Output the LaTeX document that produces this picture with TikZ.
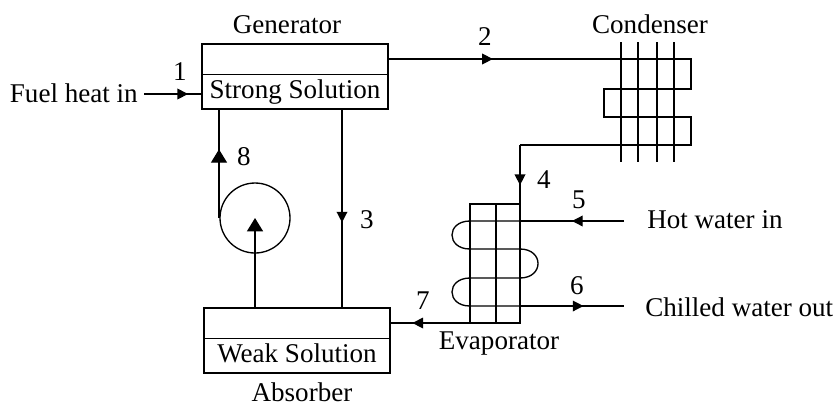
\documentclass[tikz,border=0pt]{standalone}
\usepackage{fontspec}
\setmainfont{Liberation Serif}
\usetikzlibrary{arrows.meta,decorations.markings}
\tikzset{
  >=Triangle,
  flow/.style={line width=1pt,draw=black},
  tipat/.style={postaction={decorate},decoration={markings,mark=at position #1 with {\arrow{Triangle[length=8pt,width=8pt]}}}},
  bigtipat/.style={postaction={decorate},decoration={markings,mark=at position #1 with {\arrow{Triangle[length=10pt,width=12pt]}}}},
  vessel/.style={rectangle,draw=black,line width=1.1pt,minimum width=139.5pt,minimum height=48.75pt,inner sep=0pt},
  pumpc/.style={circle,draw=black,line width=1pt,minimum size=52.5pt,inner sep=0pt},
  split/.style={line width=.55pt,draw=black},
  lab/.style={font=\fontsize{20.3pt}{23pt}\selectfont,inner sep=0pt}
}
\begin{document}
\begin{tikzpicture}[x=.75pt,y=-.75pt]
  \useasboundingbox (0,0) rectangle (837,405);

  % vessels and pump
  \node[vessel] (gen) at (295,76.5) {};
  \node[vessel] (absb) at (297,340.5) {};
  \node[pumpc] (pump) at (255,218) {};
  \draw[split] (202,74) -- (388,74);
  \draw[split] (204,338) -- (390,338);

  % connection points
  \coordinate (fuel) at (144,94);
  \coordinate (gen1) at (202,94);
  \coordinate (gen2) at (388,59);
  \coordinate (gen3) at (342,109);
  \coordinate (abs3) at (342,308);
  \coordinate (gen8) at (219,109);
  \coordinate (pmp8) at (219,218);
  \coordinate (abs7) at (390,323);
  \coordinate (cin) at (621,59);
  \coordinate (cout) at (520,145);
  \coordinate (etop) at (520,204);
  \coordinate (ebl) at (470,323);
  \coordinate (hot) at (624,221);
  \coordinate (ein) at (520,221);
  \coordinate (eout) at (520,306);
  \coordinate (cold) at (624,306);

  % condenser
  \foreach \cx in {621,638,657,674}
    \draw[flow] (\cx,42) -- (\cx,162);
  \draw[flow,line join=miter] (cin) -- (691,59) -- (691,89) -- (604,89) -- (604,117)
     -- (691,117) -- (691,145) -- (cout);

  % evaporator
  \draw[flow] (470,204) rectangle (520,323);
  \draw[flow] (496,204) -- (496,323);
  \draw[flow] (ein) -- (470,221) .. controls (446,221) and (446,249) .. (470,249)
     -- (520,249) .. controls (544,249) and (544,278) .. (520,278)
     -- (470,278) .. controls (446,278) and (446,306) .. (470,306) -- (eout);

  % flows
  \draw[flow,tipat=.76] (fuel) -- (gen1);
  \draw[flow,tipat=.45] (gen2) -- (cin);
  \draw[flow,tipat=.57] (gen3) -- (abs3);
  \draw[flow,tipat=.68] (cout) -- (etop);
  \draw[flow,tipat=.5] (hot) -- (ein);
  \draw[flow,tipat=.61] (eout) -- (cold);
  \draw[flow,tipat=.72] (ebl) -- (abs7);
  \draw[flow,bigtipat=.63] (pmp8) -- (gen8);
  \draw[flow,->,>={Triangle[length=10pt,width=12pt]}] (absb.north -| pump) -- (pump.center);

  % labels
  \node[lab] (tgen) at (287,25) {Generator};
  \node[lab] (tabs) at (302,392) {Absorber};
  \node[lab] (tcon) at (650,24) {Condenser};
  \node[lab] (teva) at (499,344) {Evaporator};
  \node[lab] (tstr) at (295,92) {Strong Solution};
  \node[lab] (twea) at (297,353) {Weak Solution};
  \node[lab,left] (tfue) at (138,93) {Fuel heat in};
  \node[lab,right] (thot) at (647,220) {Hot water in};
  \node[lab,right] (tchi) at (645,307) {Chilled water out};
  \node[lab] (n1) at (180,72) {1};
  \node[lab] (n2) at (485,37) {2};
  \node[lab] (n3) at (367,220) {3};
  \node[lab] (n4) at (544,180) {4};
  \node[lab] (n5) at (579,200) {5};
  \node[lab] (n6) at (577,286) {6};
  \node[lab] (n7) at (423,301) {7};
  \node[lab] (n8) at (244,157) {8};
\end{tikzpicture}
\end{document}
